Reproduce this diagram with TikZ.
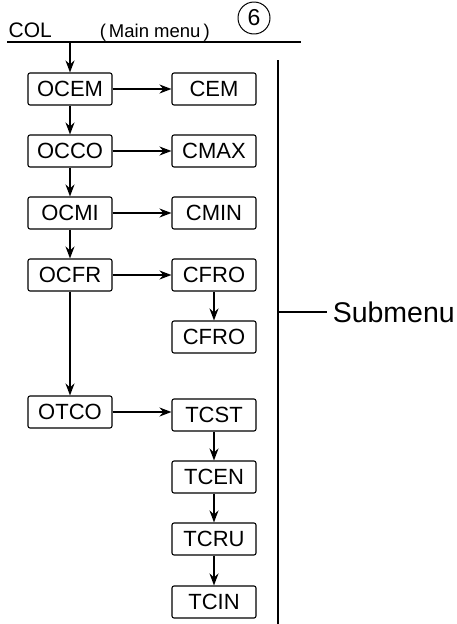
\documentclass[tikz,border=0pt]{standalone}
\usepackage{fontspec}
\setmainfont{Liberation Sans}
\usetikzlibrary{arrows.meta}
\begin{document}
\begin{tikzpicture}[x=1pt, y=-1pt, line width=1.5pt, line join=round, >={Stealth[length=12pt,width=9pt]},
    menubox/.style={draw, line width=1.1pt, rounded corners=2pt, minimum width=84pt, minimum height=32pt, inner sep=0pt, font=\fontsize{22}{22}\selectfont}]
    \useasboundingbox (0,0) rectangle (456,624);
    \path
    (70,89) node[menubox] (OCEM) {OCEM}
    (214,89) node[menubox] (CEM) {CEM}
    (70,151) node[menubox] (OCCO) {OCCO}
    (214,151) node[menubox] (CMAX) {CMAX}
    (70,213) node[menubox] (OCMI) {OCMI}
    (214,213) node[menubox] (CMIN) {CMIN}
    (70,275) node[menubox] (OCFR) {OCFR}
    (214,275) node[menubox] (CFRO) {CFRO}
    (214,337) node[menubox] (CFROb) {CFRO}
    (70,412) node[menubox] (OTCO) {OTCO}
    (214,415) node[menubox] (TCST) {TCST}
    (214,477) node[menubox] (TCEN) {TCEN}
    (214,539) node[menubox] (TCRU) {TCRU}
    (214,602) node[menubox] (TCIN) {TCIN}
    ;
    % header
    \node[anchor=base west, inner sep=0pt, font=\fontsize{21}{21}\selectfont] (col) at (8,37) {COL};
    \node[anchor=base west, inner sep=0pt, font=\fontsize{18.5}{18.5}\selectfont] (mainmenu) at (99,37) {(\,Main menu\,)};
    \node[circle, draw, line width=1pt, minimum size=32pt, inner sep=0pt, font=\fontsize{23}{23}\selectfont] (six) at (254,18) {6};
    \coordinate (lineL) at (7,42);
    \coordinate (lineR) at (301,42);
    \coordinate (lineA) at (70,42);
    \draw (lineL) -- (lineR);
    \draw[->] (lineA) -- (OCEM);

    \foreach \i/\j in {OCEM/OCCO, OCCO/OCMI, OCMI/OCFR, OCFR/OTCO, CFRO/CFROb, TCST/TCEN, TCEN/TCRU, TCRU/TCIN}{
        \draw[->] (\i) -- (\j);
    }
    \foreach \i/\j in {OCEM/CEM, OCCO/CMAX, OCMI/CMIN, OCFR/CFRO}{
        \draw[->] (\i) -- (\j);
    }
    \draw[->] (OTCO.east) -- (TCST.west |- OTCO.east);

    % submenu bracket
    \coordinate (barT) at (278,60);
    \coordinate (barB) at (278,624);
    \coordinate (barM) at (278,312);
    \draw (barT) -- (barB);
    \node[anchor=west, inner sep=0pt, font=\fontsize{28.5}{28.5}\selectfont] (sub) at (332,312) {Submenu};
    \draw (barM) -- ([xshift=-5pt]sub.west);
\end{tikzpicture}
\end{document}
